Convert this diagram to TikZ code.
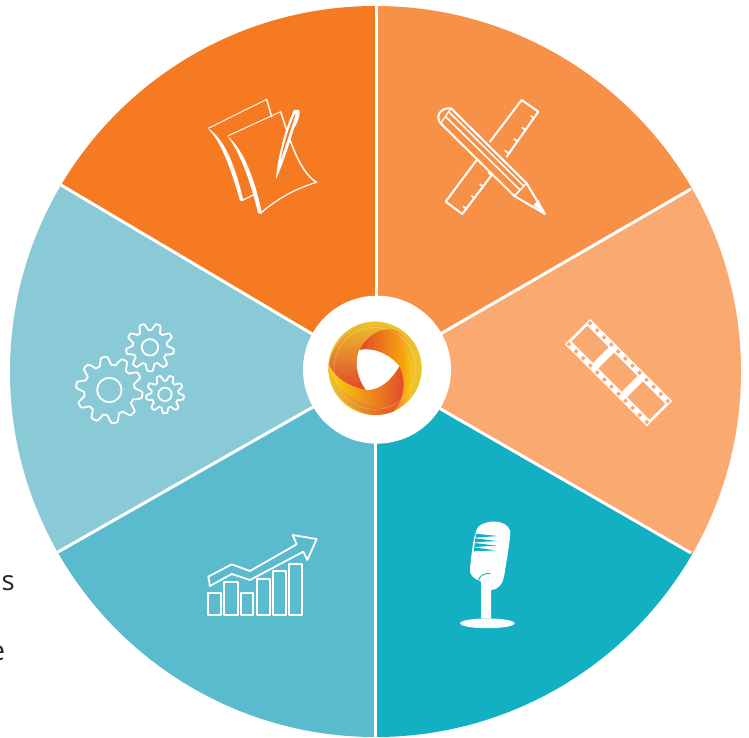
\documentclass[tikz,border=0pt]{standalone}
\usepackage{fontspec}
\usetikzlibrary{calc}
\setmainfont{Open Sans}
\definecolor{wTL}{HTML}{F57A22}
\definecolor{wTR}{HTML}{F79147}
\definecolor{wR}{HTML}{FAA970}
\definecolor{wBR}{HTML}{13AFC2}
\definecolor{wBL}{HTML}{59BBCD}
\definecolor{wL}{HTML}{8AC9D6}
\definecolor{lgold}{HTML}{ECC22E}
\definecolor{lyel}{HTML}{FBD40A}
\definecolor{lred}{HTML}{E0472C}
\definecolor{lorg}{HTML}{F4792C}
\tikzset{
  sep/.style={white,line width=3pt},
  ico/.style={white,line width=2pt,line join=round,line cap=round},
  marg/.style={inner sep=0pt,font=\fontsize{27.5}{27.5}\selectfont,text=black!85,anchor=base west}
}
\newcommand{\drawgear}[6]{%
  \draw[ico,line width=1.8pt] plot[domain=0:359,samples=240] ({#1+(#3+#4*max(-1,min(1,1.5*sin(#5*\x))))*cos(\x)},{#2+(#3+#4*max(-1,min(1,1.5*sin(#5*\x))))*sin(\x)}) -- cycle;
  \draw[ico,line width=1.8pt] (#1,#2) ellipse[x radius=#6,y radius=#6];
}
\newcommand{\rbox}[4]{(#1,#2) -- (#3,#2) -- (#3,#4) -- (#1,#4) -- cycle}
\begin{document}
\begin{tikzpicture}[x=1pt,y=-1pt]
\useasboundingbox (0,0) rectangle (749,738);
\fill[white] (0,0) rectangle (749,738);
\coordinate (C) at (375.5,371.5);
\coordinate (top) at (376.5,6);
\coordinate (topin) at (376.5,371.5);
\coordinate (ur) at (691,189);
\coordinate (lr) at (691,553);
\coordinate (bot) at (375.5,737);
\coordinate (ll) at (58,552);
\coordinate (ul) at (61,185);
\begin{scope}
  \clip (C) circle[radius=365.5pt];
  \fill[wTL] (C) -- (376.5,-300) -- (-300,-300) -- ($(C)!2!(ul)$) -- cycle;
  \fill[wTR] (C) -- (376.5,-300) -- (1100,-300) -- ($(C)!2!(ur)$) -- cycle;
  \fill[wR] (C) -- ($(C)!2!(ur)$) -- ($(C)!2!(lr)$) -- cycle;
  \fill[wBR] (C) -- ($(C)!2!(lr)$) -- (1100,1100) -- (375.5,1100) -- cycle;
  \fill[wBL] (C) -- (375.5,1100) -- (-300,1100) -- ($(C)!2!(ll)$) -- cycle;
  \fill[wL] (C) -- ($(C)!2!(ll)$) -- ($(C)!2!(ul)$) -- cycle;
\end{scope}
\draw[sep] (topin) -- (top);
\draw[sep] (C) -- (ur);
\draw[sep] (C) -- (lr);
\draw[sep] (C) -- (bot);
\draw[sep] (C) -- (ll);
\draw[sep] (C) -- (ul);
\fill[white] (377,369.7) circle[radius=74pt];
% logo (zoom coordinates)
\begin{scope}[shift={(300,290)},x=0.3333pt,y=-0.3333pt]
  \fill[lgold] (225,235) circle[radius=46.7pt];
  % lower rim
  \shade[left color=lgold,right color=lred!80!orange] (85,235) .. controls (90,310) and (160,375) .. (225,375) .. controls (250,375) and (270,370) .. (285,362) -- (200,330) -- cycle;
  % upper right rim tint
  \shade[left color=lorg!70!lgold,right color=lgold] (275,117) .. controls (305,125) and (325,145) .. (338,170) -- (335,230) -- cycle;
  % right band
  \shade[left color=lred,right color=lyel!70!orange] (178,180) .. controls (200,135) and (240,115) .. (275,117) .. controls (320,150) and (340,215) .. (332,250) .. controls (332,280) and (322,305) .. (315,315) -- (298,228) .. controls (265,190) and (220,172) .. (178,180) -- cycle;
  % left band
  \shade[top color=lgold,middle color=lorg,bottom color=lred] (275,117) .. controls (240,115) and (200,135) .. (178,180) .. controls (162,215) and (172,265) .. (198,300) .. controls (150,290) and (105,265) .. (87,225) .. controls (92,165) and (160,95) .. (225,95) .. controls (245,95) and (262,105) .. (275,117) -- cycle;
  % bottom band
  \shade[left color=lyel,middle color=lyel,right color=lred] (85,225) .. controls (105,265) and (150,292) .. (198,300) .. controls (235,305) and (275,270) .. (298,228) .. controls (315,265) and (322,315) .. (285,360) .. controls (215,355) and (110,330) .. (85,225) -- cycle;
  % right yellow sliver
  \shade[left color=lorg,right color=lyel] (300,230) .. controls (316,262) and (318,315) .. (285,362) .. controls (320,345) and (345,300) .. (335,225) .. controls (330,190) and (315,150) .. (275,117) .. controls (310,155) and (332,215) .. (316,280) .. controls (312,260) and (308,245) .. (300,230) -- cycle;
  % hole
  \fill[white] (178,180) .. controls (220,172) and (265,190) .. (298,228) .. controls (275,270) and (240,300) .. (198,300) .. controls (172,265) and (162,215) .. (178,180) -- cycle;
  \draw[white,opacity=.35,line width=.4pt] (225,235) circle[radius=41pt];
\end{scope}
% notes icon
\begin{scope}[shift={(190,85)},x=0.3333pt,y=-0.3333pt]
  \draw[ico,line width=.9pt] (55,130) -- (230,43);
  \draw[ico,line width=1.4pt] (230,43) -- (245,95);
  \fill[white] (53,130) .. controls (95,170) and (125,260) .. (150,347) -- (160,347) .. controls (138,250) and (105,160) .. (53,130) -- cycle;
  \draw[ico,line width=1.2pt] (155,347) -- (190,330);
  \draw[ico,line width=.9pt] (115,152) -- (272,80);
  \fill[white] (111,152) .. controls (150,200) and (185,300) .. (204,385) -- (216,385) .. controls (195,285) and (160,190) .. (111,152) -- cycle;
  \draw[ico,line width=1.5pt] (272,80) .. controls (295,150) and (325,260) .. (380,292);
  \draw[ico,line width=1.2pt] (380,292) .. controls (310,312) and (250,350) .. (212,385);
  \fill[white] (258,282) .. controls (262,220) and (285,130) .. (312,75) -- (328,75) .. controls (332,85) and (325,110) .. (312,130) .. controls (300,170) and (280,235) .. (258,282) -- cycle;
  \fill[wTL] (272,225) .. controls (280,180) and (295,130) .. (316,85) .. controls (318,90) and (300,140) .. (272,225) -- cycle;
\end{scope}
% pencil and ruler
\begin{scope}[shift={(425,90)},x=0.3333pt,y=-0.3333pt]
  \draw[ico] (195,155) -- (290,30) -- (340,65) -- (245,200);
  \draw[ico] (155,210) -- (62,335) -- (112,372) -- (200,255);
  \foreach \a/\b in {318/78,292/113,267/147,240/182,190/248,165/283,140/318,115/350}{
    \draw[ico,line width=1.6pt] (\a,\b) -- ++(10,7);
  }
  \draw[ico] (78,55) -- (305,280) -- (360,372) -- (268,318) -- (47,100) .. controls (30,80) and (45,52) .. (78,55);
  \draw[ico,line width=1.5pt] (62,80) -- (285,300);
  \draw[ico,line width=1.5pt] (74,68) -- (296,288);
  \draw[ico,line width=1.2pt] (47,100) -- (78,55);
  \draw[ico,line width=1.5pt] (268,318) -- (305,280);
  \fill[white] (325,345) -- (360,372) -- (340,330) -- cycle;
\end{scope}
% film strip
\begin{scope}[shift={(590,319)},x={(0.2357pt,-0.2357pt)},y={(-0.2357pt,-0.2357pt)}]
  \fill[white,even odd rule] \rbox{0}{0}{348}{107}
    \rbox{8}{20}{100}{87} \rbox{122}{20}{222}{87} \rbox{244}{20}{340}{87};
  \foreach \i in {0,...,11}{
    \pgfmathsetmacro{\ha}{9+30*\i-5}
    \pgfmathsetmacro{\hb}{9+30*\i+5}
    \fill[wR] \rbox{\ha}{4}{\hb}{14};
    \fill[wR] \rbox{\ha}{93}{\hb}{103};
  }
\end{scope}
% microphone
\begin{scope}[shift={(445,510)},x=0.3333pt,y=-0.3333pt]
  \fill[white] (100,50) .. controls (125,28) and (185,28) .. (195,62) .. controls (198,80) and (185,150) .. (178,195) .. controls (172,225) and (160,238) .. (138,240) -- (138,325) -- (108,325) -- (108,215) .. controls (85,205) and (72,195) .. (75,175) .. controls (80,130) and (85,70) .. (100,50) -- cycle;
  \fill[white] (127,340) ellipse[x radius=27.3pt,y radius=4.9pt];
  \draw[wBR,line width=.9pt,line cap=round] (100,213) .. controls (103,198) and (115,190) .. (135,190);
  \fill[wBR] (92,71) -- (158,78) -- (92,83) -- cycle;
  \fill[wBR] (91,85) -- (156,93) -- (90,97) -- cycle;
  \fill[wBR] (89,99) -- (155,107) -- (88,111) -- cycle;
  \fill[wBR] (87,112) -- (152,121) -- (86,124) -- cycle;
\end{scope}
% chart
\begin{scope}[shift={(195,525)},x=0.3333pt,y=-0.3333pt]
  \foreach \a/\b/\t in {40/78/203,88/128/172,137/175/203,185/225/163,233/273/137,282/320/118}{
    \draw[ico,line width=1.8pt] (\a,\t) rectangle (\b,270);
  }
  \draw[ico,line width=1.8pt] (40,155) -- (110,118) -- (165,138) -- (305,58) -- (293,30) -- (365,42) -- (337,105) -- (325,80) -- (165,165) -- (110,147) -- (45,183) -- cycle;
\end{scope}
% gears
\begin{scope}[shift={(70,315)},x=0.3333pt,y=-0.3333pt]
  \drawgear{118}{225}{88}{12}{10}{12.2pt}
  \drawgear{240}{97}{62}{10}{9}{8.2pt}
  \drawgear{285}{238}{49}{8}{9}{6.7pt}
\end{scope}
\node[marg] (txtS) at (1.5,590) {s};
\node[marg] (txtE) at (-10.5,660) {e};
\end{tikzpicture}
\end{document}
